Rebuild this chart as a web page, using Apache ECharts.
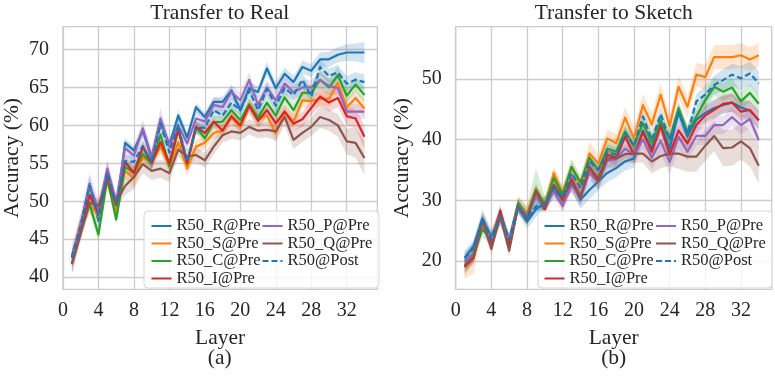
<!DOCTYPE html>
<html><head><meta charset="utf-8">
<script src="https://cdn.jsdelivr.net/npm/echarts@6/dist/echarts.min.js"></script>
<style>html,body{margin:0;padding:0;background:#fff}#c{width:775px;height:376px}</style>
</head><body><div id="c"></div>
<script>
const layers = [1,2,3,4,5,6,7,8,9,10,11,12,13,14,15,16,17,18,19,20,21,22,23,24,25,26,27,28,29,30,31,32,33,34];
const seriesNames = ['R50_R@Pre','R50_S@Pre','R50_C@Pre','R50_I@Pre','R50_P@Pre','R50_Q@Pre','R50@Post'];
const xTicks = [0,4,8,12,16,20,24,28,32];
const yTicksReal = [40,45,50,55,60,65,70];
const yTicksSketch = [20,30,40,50];

// Transfer to Real (means)
const realR = [42.8,46.8,52.3,47.4,54.0,48.8,57.7,56.7,59.3,55.7,60.6,57.4,61.3,58.4,62.4,61.1,63.1,63.1,64.6,62.0,64.9,64.4,67.5,64.9,66.8,65.7,67.7,67.2,68.7,68.7,69.3,69.6,69.6,69.6];
const realS = [42.5,47.3,49.6,48.0,53.8,48.6,54.0,53.0,55.8,55.0,57.2,54.5,57.8,54.3,57.2,57.7,59.0,59.3,61.0,59.8,62.5,60.8,61.3,58.9,61.8,60.5,63.3,63.2,63.5,63.5,65.6,62.4,63.6,62.2];
const realC = [42.5,46.5,49.6,45.6,53.0,47.6,54.5,53.8,56.2,55.0,58.8,54.6,59.5,55.0,59.8,58.3,60.4,60.5,62.0,60.7,62.8,61.0,63.0,61.3,63.7,62.0,64.3,64.3,66.0,65.0,66.6,63.9,65.4,64.0];
const realI = [41.8,46.3,50.8,48.5,53.0,49.5,55.2,53.7,57.2,55.0,57.8,55.0,59.5,55.0,59.8,59.0,60.5,59.3,61.2,60.0,62.6,60.6,62.0,60.3,61.8,60.2,60.8,62.3,63.8,63.0,63.6,61.2,60.9,58.5];
const realP = [42.5,47.0,52.2,48.9,54.3,50.0,57.0,56.0,59.6,55.9,60.9,57.2,60.0,57.6,60.9,60.5,62.7,62.4,64.4,63.3,66.0,62.7,65.0,63.3,65.5,64.4,65.0,65.0,66.0,65.2,64.9,61.8,61.8,61.8];
const realQ = [41.7,45.7,49.8,49.4,52.8,49.8,52.0,53.2,54.9,54.0,54.3,53.7,56.8,55.9,56.1,55.4,57.2,58.7,59.2,59.0,59.8,59.3,59.4,59.2,61.1,58.1,59.0,59.8,61.1,60.7,60.0,57.9,57.7,55.7];
const realPost = [42.6,46.8,52.0,48.0,53.8,49.5,55.3,55.2,57.3,55.0,60.2,56.4,60.0,55.2,59.6,59.7,62.0,61.3,63.0,62.0,64.6,62.0,64.8,62.6,64.9,64.0,66.0,63.8,67.7,66.5,67.0,65.5,66.0,65.7];
// Transfer to Real (band half-widths)
const realRci = [0.8,0.8,1.0,0.8,1.0,0.8,0.6,0.6,0.8,0.6,0.8,0.7,0.8,0.7,0.6,0.6,0.6,0.7,0.7,0.7,0.8,0.8,0.9,0.8,0.9,0.8,0.8,0.9,0.9,1.0,1.0,1.1,1.2,1.4];
const realSci = [1.0,1.0,1.2,1.0,1.5,1.0,1.0,1.2,1.0,0.8,1.0,0.8,1.0,1.0,1.0,0.8,0.8,0.8,0.8,0.8,1.0,1.0,1.0,1.2,1.0,0.9,1.0,1.0,1.0,1.0,1.0,1.1,1.2,1.2];
const realCci = [0.8,0.8,1.0,1.0,1.0,0.8,0.8,0.8,0.8,0.8,0.9,0.8,0.9,0.8,0.8,0.8,0.8,0.8,0.8,0.8,0.9,0.9,0.9,0.9,0.9,0.9,1.0,1.0,1.2,1.0,1.2,1.0,1.0,1.0];
const realIci = [1.5,1.0,1.0,1.0,1.0,0.8,0.8,0.8,0.8,0.8,0.8,0.8,0.8,0.8,0.8,0.8,0.8,0.8,0.8,0.8,0.9,0.9,0.9,0.9,0.9,0.9,1.0,1.0,1.2,1.2,1.2,1.2,1.3,1.5];
const realPci = [1.8,1.5,1.6,1.2,1.2,1.0,1.0,1.0,1.2,1.0,1.4,1.0,1.0,1.0,1.0,1.0,1.0,1.0,1.0,1.0,1.0,1.0,1.0,1.0,1.0,1.0,1.0,1.0,1.0,1.0,1.0,1.0,1.0,1.0];
const realQci = [1.2,1.0,1.0,1.0,1.0,0.8,1.2,1.6,1.2,1.2,1.2,1.2,1.0,1.0,1.0,1.0,1.0,1.0,1.0,1.0,1.0,1.0,1.0,1.2,1.2,1.2,1.2,1.2,1.4,1.4,1.5,1.7,2.0,2.2];
const realPostci = [0.8,0.8,0.8,0.8,0.8,0.8,0.8,0.8,0.8,0.8,0.8,0.8,0.8,0.8,0.8,0.8,0.8,0.8,0.8,0.8,0.9,0.9,0.9,0.9,0.9,0.9,1.0,1.0,1.0,1.0,1.0,1.0,1.0,1.0];

// Transfer to Sketch (means)
const skR = [20.5,22.5,27.0,24.0,27.5,23.3,29.0,26.5,28.5,29.5,31.5,30.5,33.0,30.1,31.7,33.1,34.5,35.3,36.4,36.9,41.5,38.5,42.5,38.5,44.5,40.5,43.3,44.4,45.2,45.7,46.1,45.3,44.8,43.2];
const skS = [19.1,20.4,26.5,23.5,27.3,22.9,29.5,27.9,31.7,29.2,34.5,31.2,35.5,32.3,37.7,36.1,40.2,39.4,43.6,40.2,45.7,42.5,47.4,42.2,48.7,45.4,50.7,50.3,53.6,53.6,53.6,53.9,53.2,53.9];
const skC = [19.0,21.0,25.2,23.6,27.5,23.3,29.5,27.5,31.8,29.2,33.7,31.0,35.5,33.0,37.0,35.0,38.5,38.0,41.3,39.0,42.7,39.5,43.2,40.0,45.2,41.2,43.8,46.5,48.7,47.9,48.6,46.3,47.7,45.9];
const skI = [19.0,20.5,26.5,23.0,28.3,22.5,29.0,27.0,31.5,28.5,32.5,30.0,33.5,30.5,35.5,33.5,37.5,37.0,40.5,37.5,41.2,38.0,42.2,37.5,41.5,39.4,42.4,44.0,44.9,45.9,46.1,44.6,44.9,43.2];
const skP = [20.0,21.0,26.5,23.5,27.0,23.5,29.0,27.5,30.5,29.0,31.5,29.0,32.5,30.5,34.5,33.0,36.5,36.8,38.5,37.5,40.0,37.0,39.8,36.3,40.5,38.0,40.6,40.6,42.4,42.4,43.7,42.4,43.4,39.9];
const skQ = [19.3,20.7,26.7,22.0,27.5,21.7,29.0,27.0,31.5,28.8,32.5,30.5,33.0,30.5,35.3,33.1,36.9,36.9,37.6,37.7,37.7,36.4,37.3,37.7,37.7,37.2,37.2,39.0,40.6,38.6,38.7,39.7,38.6,35.7];
const skPost = [20.5,22.0,27.0,23.5,27.5,23.5,29.0,27.0,29.0,29.5,32.0,30.5,34.5,32.0,36.5,35.0,38.0,37.5,41.0,39.0,43.8,40.0,44.2,40.0,44.5,41.0,46.3,47.4,49.0,49.8,50.7,50.1,50.9,49.3];
// Transfer to Sketch (band half-widths)
const skRci = [1.2,1.0,1.5,1.2,1.5,1.2,1.2,1.2,1.2,1.2,1.2,1.2,1.5,1.5,1.5,1.5,1.5,1.5,1.5,1.5,1.5,1.5,1.5,1.5,1.5,1.5,1.5,1.5,1.5,1.5,1.5,1.5,1.5,1.5];
const skSci = [2.0,2.5,1.5,1.5,1.5,1.5,1.2,1.2,1.2,1.2,1.2,1.2,1.2,1.2,2.0,1.5,1.5,1.5,1.8,1.8,1.8,1.8,1.8,1.8,1.8,1.8,2.0,2.0,2.0,2.0,2.0,2.0,2.0,2.0];
const skCci = [1.5,1.0,1.2,1.0,1.2,1.0,1.0,1.5,3.5,1.5,1.2,1.2,1.2,1.2,1.2,1.2,1.2,1.2,1.2,1.2,1.2,1.2,1.2,1.2,1.2,1.2,1.2,1.5,1.5,1.5,1.5,1.5,1.5,1.5];
const skIci = [1.0,1.0,1.0,1.0,1.0,1.0,1.0,1.0,1.0,1.0,1.0,1.0,1.0,1.0,1.2,1.2,1.2,1.2,1.5,1.5,1.5,1.5,1.5,1.5,1.5,1.5,1.5,1.5,1.5,1.5,1.5,1.5,1.5,1.5];
const skPci = [1.0,1.0,1.0,1.0,1.0,1.0,1.0,1.0,1.0,1.0,1.0,1.0,1.2,1.2,1.2,1.2,1.5,1.5,1.5,1.5,1.5,2.0,2.0,2.0,2.0,1.5,1.5,1.5,1.5,1.5,1.5,1.5,1.5,1.5];
const skQci = [1.0,1.0,1.0,1.0,1.0,1.0,1.0,1.0,1.0,1.0,1.2,1.2,1.5,1.5,1.5,1.5,1.5,1.5,1.5,1.5,1.5,2.0,2.0,2.0,2.5,2.5,2.5,2.5,2.5,3.0,3.0,3.0,3.0,3.0];
const skPostci = [1.0,1.0,1.0,1.0,1.0,1.0,1.0,1.0,1.0,1.0,1.0,1.0,1.2,1.2,1.2,1.2,1.2,1.2,1.2,1.2,1.2,1.2,1.2,1.2,1.2,1.2,1.2,1.5,1.5,1.8,1.8,2.0,2.0,2.0];

const realMeans = [realR, realS, realC, realI, realP, realQ, realPost];
const realCis = [realRci, realSci, realCci, realIci, realPci, realQci, realPostci];
const skMeans = [skR, skS, skC, skI, skP, skQ, skPost];
const skCis = [skRci, skSci, skCci, skIci, skPci, skQci, skPostci];

const colors = ['#1f77b4','#ff7f0e','#2ca02c','#d62728','#9467bd','#8c564b','#1f77b4'];
const FONT = '"Liberation Serif", "Times New Roman", serif';
const TXT = '#262626';
const GRIDC = '#cccccc';

function build(gi, means, cis) {
  const out = [];
  means.forEach((m, k) => {
    const ci = cis[k];
    out.push({type:'custom', name:'band_'+gi+'_'+k, xAxisIndex:gi, yAxisIndex:gi, silent:true, z:1, clip:true,
      data: layers.map((x,i)=>[x, m[i]-ci[i], m[i]+ci[i]]),
      encode:{x:0, y:[1,2]},
      renderItem: function(params, api) {
        if (params.dataIndex !== 0) return;
        const top = layers.map((x,i)=>api.coord([x, m[i]+ci[i]]));
        const bot = layers.map((x,i)=>api.coord([x, m[i]-ci[i]])).reverse();
        return {type:'polygon', shape:{points: top.concat(bot)}, style:{fill:colors[k], opacity:0.2}};
      },
      animation:false});
  });
  means.forEach((m, k) => {
    out.push({type:'line', name:seriesNames[k], xAxisIndex:gi, yAxisIndex:gi,
      data: layers.map((x,i)=>[x, m[i]]), symbol:'none', showSymbol:false, z:3+k,
      itemStyle:{color:colors[k]},
      lineStyle:{color:colors[k], width:2.2, type: k===6 ? [6,3] : 'solid', cap:'butt', join:'round'},
      animation:false});
  });
  return out;
}

function xAxis(gi) {
  return {type:'value', gridIndex:gi, min:0, max:35.45,
    name:'Layer', nameLocation:'middle', nameGap:38,
    nameTextStyle:{fontFamily:FONT, fontSize:21.5, color:TXT},
    axisLine:{show:false}, axisTick:{show:false, customValues:xTicks},
    axisLabel:{customValues:xTicks, fontFamily:FONT, fontSize:20, color:TXT, margin:11},
    splitLine:{show:true, lineStyle:{color:GRIDC, width:1.3}}};
}
function yAxis(gi, min, max, ticks, gap) {
  return {type:'value', gridIndex:gi, min:min, max:max,
    name:'Accuracy (%)', nameLocation:'middle', nameGap:gap,
    nameTextStyle:{fontFamily:FONT, fontSize:21.5, color:TXT},
    axisLine:{show:false}, axisTick:{show:false, customValues:ticks},
    axisLabel:{customValues:ticks, fontFamily:FONT, fontSize:20, color:TXT, margin:14},
    splitLine:{show:true, lineStyle:{color:GRIDC, width:1.3}}};
}
function legend(left, names) {
  return {data:names, orient:'vertical', left:left, top:217.5, z:60,
    itemWidth:20, itemHeight:10, itemGap:0.5, padding:0,
    itemStyle:{opacity:0},
    textStyle:{fontFamily:FONT, fontSize:16.5, color:TXT},
    selectedMode:false};
}
const col1 = seriesNames.slice(0,4);
const col2 = seriesNames.slice(4);

const chart = echarts.init(document.getElementById('c'), null, {renderer:'canvas'});
chart.setOption({
  backgroundColor:'#ffffff',
  animation:false,
  grid:[
    {left:62.3, top:26.7, width:315, height:262.6, show:true, borderColor:GRIDC, borderWidth:1.3, backgroundColor:'transparent'},
    {left:455.7, top:26.7, width:316, height:262.6, show:true, borderColor:GRIDC, borderWidth:1.3, backgroundColor:'transparent'}
  ],
  xAxis:[xAxis(0), xAxis(1)],
  yAxis:[yAxis(0, 38.4, 73.0, yTicksReal, 40), yAxis(1, 15.34, 58.6, yTicksSketch, 42)],
  legend:[legend(150.5, col1), legend(261.5, col2), legend(543.5, col1), legend(655, col2)],
  graphic:[
    {type:'rect', z:50, shape:{x:144, y:211, width:235, height:77, r:4}, style:{fill:'rgba(255,255,255,0.8)', stroke:'#d6d6d6', lineWidth:1}},
    {type:'rect', z:50, shape:{x:538, y:211, width:234, height:77, r:4}, style:{fill:'rgba(255,255,255,0.8)', stroke:'#d6d6d6', lineWidth:1}},
    {type:'text', x:219.8, y:13, style:{text:'Transfer to Real', font:'21.5px '+FONT, fill:TXT, textAlign:'center', textVerticalAlign:'middle'}},
    {type:'text', x:613.7, y:13, style:{text:'Transfer to Sketch', font:'21.5px '+FONT, fill:TXT, textAlign:'center', textVerticalAlign:'middle'}},
    {type:'text', x:219.8, y:358.5, style:{text:'(a)', font:'21.5px '+FONT, fill:TXT, textAlign:'center', textVerticalAlign:'middle'}},
    {type:'text', x:613.7, y:358.5, style:{text:'(b)', font:'21.5px '+FONT, fill:TXT, textAlign:'center', textVerticalAlign:'middle'}}
  ],
  series: build(0, realMeans, realCis).concat(build(1, skMeans, skCis))
});
</script>
</body></html>
